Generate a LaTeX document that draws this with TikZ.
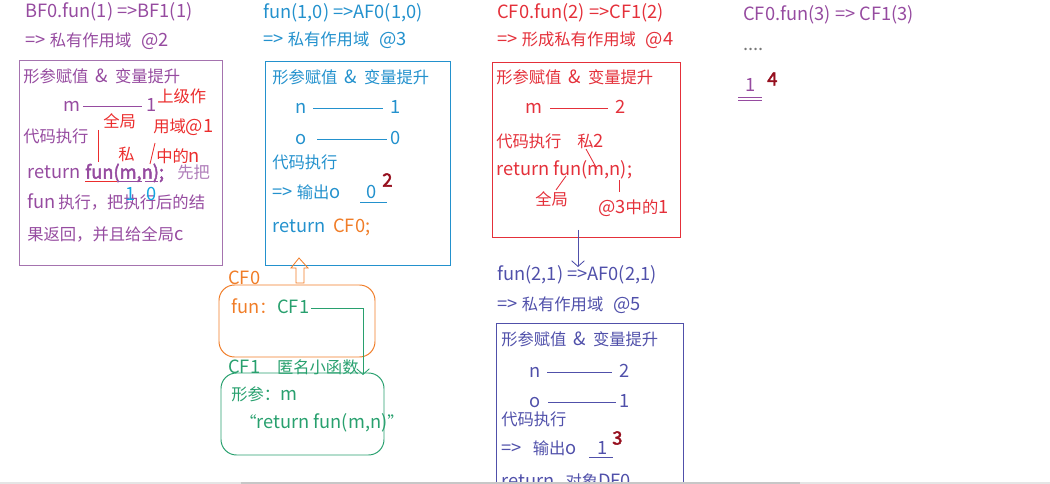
\documentclass[tikz,border=0pt]{standalone}
\usepackage{fontspec}
\newfontfamily\cjk[AutoFakeBold=2.5]{Noto Sans CJK SC}
\newcommand\zh[1]{{\fontsize{11.6}{14}\selectfont#1}}
\newcommand\hoist{\zh{形参赋值}\hspace{5pt}\&\hspace{5pt}\zh{变量提升}}
\usetikzlibrary{arrows.meta,fit}
\definecolor{bfpurple}{RGB}{150,75,160}
\definecolor{bflight}{RGB}{175,125,185}
\definecolor{bfframe}{RGB}{165,115,175}
\definecolor{notered}{RGB}{235,45,45}
\definecolor{afblue}{RGB}{35,145,205}
\definecolor{afcyan}{RGB}{20,165,225}
\definecolor{cforange}{RGB}{240,125,40}
\definecolor{cfred}{RGB}{228,48,58}
\definecolor{cfgreen}{RGB}{40,160,110}
\definecolor{afindigo}{RGB}{80,80,170}
\definecolor{stepred}{RGB}{150,15,30}
\definecolor{dotgray}{RGB}{120,120,120}

\begin{document}
\begin{tikzpicture}[x=0.025cm, y=-0.025cm,
    txt/.style={font=\cjk\fontsize{13}{15}\selectfont, inner sep=0pt,
        text height=9.5pt, text depth=1.5pt, anchor=west},
    note/.style={txt, text=notered},
    step num/.style={font=\cjk\bfseries\fontsize{13}{15}\selectfont,
        text=stepred, inner sep=0pt, anchor=west},
    frame/.style={draw, line width=0.7pt, inner sep=0pt},
    bubble/.style={frame, rounded corners=11pt},
    barb/.style={-{Straight Barb[length=4pt,width=9pt]}},
    link/.style={line width=0.6pt}
]
    \useasboundingbox (0,0) rectangle (1050,484);
    \clip (0,0) rectangle (1050,484);

    % BF0.fun(1)
    \node[txt, text=bfpurple] (bf-head) at (25,12) {BF0.fun(1) =>BF1(1)};
    \node[txt, text=bfpurple] (bf-scope) at (25,41) {=>\hspace{3pt}\zh{私有作用域}\hspace{7pt}@2};
    \node[frame, draw=bfframe, fit={(19,60) (222,265)}] (bf-box) {};
    \node[txt, text=bfpurple] (bf-hoist) at (23,77) {\hoist};
    \node[txt, text=bfpurple] (bf-m) at (63,106) {m};
    \node[txt, text=bfpurple] (bf-1) at (146,106) {1};
    \draw[link, bfpurple] (83,106) -- (142,106);
    \node[txt, text=bfpurple] (bf-run) at (23,137) {\zh{代码执行}};
    \node[txt, text=bfpurple] (bf-ret) at (27,173) {return};
    \node[txt, text=bfpurple, font=\cjk\bfseries\fontsize{13}{15}\selectfont] (bf-call) at (85,173) {fun(m,n);};
    \node[txt, text=bflight] (bf-first) at (177,173) {\zh{先把}};
    \node[txt, text=bfpurple] (bf-l2) at (27,203) {fun\hspace{2pt}\zh{执行，把执行后的结}};
    \node[txt, text=bfpurple] (bf-l3) at (27,235) {\zh{果返回，并且给全局}c};
    \draw[link, notered] (85,181) -- (117,181);
    \draw[link, bfpurple] (119,181) -- (142,181);
    \draw[link, bfpurple] (145,181) -- (158,181);
    \node[txt, text=afcyan] (bf-v1) at (125,195) {1};
    \node[txt, text=afcyan] (bf-v0) at (146,195) {0};
    % 红色批注
    \node[note] (bf-up1) at (157,97) {\zh{上级作}};
    \node[note] (bf-up2) at (153,127) {\zh{用域}@1};
    \node[note] (bf-up3) at (156,157) {\zh{中的}n};
    \node[note] (bf-global) at (103,122) {\zh{全局}};
    \node[note] (bf-priv) at (118,155) {\zh{私}};
    \draw[link, notered] (98,130) -- (98,162);
    \draw[link, notered] (150,164) -- (155,143);

    % fun(1,0)
    \node[txt, text=afblue] (af-head) at (263,13) {fun(1,0) =>AF0(1,0)};
    \node[txt, text=afblue] (af-scope) at (263,40) {=>\hspace{3pt}\zh{私有作用域}\hspace{7pt}@3};
    \node[frame, draw=afblue, fit={(265,61) (450,265)}] (af-box) {};
    \node[txt, text=afblue] (af-hoist) at (272,78) {\hoist};
    \foreach \y/\name/\val/\a/\b in {108/n/1/313/383, 139/o/0/317/387} {
        \node[txt, text=afblue] (af-\name) at (295,\y) {\name};
        \node[txt, text=afblue] (af-\name-val) at (390,\y) {\val};
        \draw[link, afblue] (\a,\y) -- (\b,\y);
    }
    \node[txt, text=afblue] (af-run) at (272,163) {\zh{代码执行}};
    \node[txt, text=afblue] (af-out) at (272,193) {=>\hspace{3pt}\zh{输出}o};
    \node[txt, text=afblue] (af-out-val) at (366,193) {0};
    \draw[link, afblue] (360,202) -- (387,202);
    \node[step num] (step-2) at (382,180) {2};
    \node[txt, text=afblue] (af-ret) at (272,227) {return};
    \node[txt, text=cforange] (af-ret-val) at (333,227) {CF0;};

    % CF0 与 CF1
    \draw[cforange, link] (299,258) -- (308,268) -- (304,268) -- (304,283)
        -- (296,283) -- (296,268) -- (291,268) -- cycle;
    \node[txt, text=cforange] (cf0-name) at (228,279) {CF0};
    \node[bubble, draw=cforange, fit={(219,285) (375,357)}] (cf0-box) {};
    \node[txt, text=cforange] (cf0-key) at (231,308) {fun\zh{：}};
    \node[txt, text=cfgreen] (cf0-val) at (277,308) {CF1};
    \node[txt, text=cfgreen] (cf1-name) at (228,368) {CF1\hspace{12pt}\zh{匿名小函数}};
    \node[bubble, draw=cfgreen, fit={(221,373) (384,455)}] (cf1-box) {};
    \node[txt, text=cfgreen] (cf1-arg) at (231,395) {\zh{形参：}m};
    \node[txt, text=cfgreen] (cf1-body) at (240,423) {\zh{“}return fun(m,n)\zh{”}};
    \coordinate (cf1-in) at (363,375);
    \draw[link, cfgreen, barb] ([xshift=1pt]cf0-val.east) -| (cf1-in);

    % CF0.fun(2)
    \node[txt, text=cfred] (cf-head) at (497,13) {CF0.fun(2) =>CF1(2)};
    \node[txt, text=cfred] (cf-scope) at (497,40) {=>\hspace{3pt}\zh{形成私有作用域}\hspace{7pt}@4};
    \node[frame, draw=cfred, fit={(492,62) (680,237)}] (cf-box) {};
    \node[txt, text=cfred] (cf-hoist) at (496,78) {\hoist};
    \node[txt, text=cfred] (cf-m) at (525,108) {m};
    \node[txt, text=cfred] (cf-m-val) at (615,108) {2};
    \draw[link, cfred] (550,108) -- (608,108);
    \node[txt, text=cfred] (cf-run) at (496,142) {\zh{代码执行}};
    \node[txt, text=cfred] (cf-priv) at (577,142) {\zh{私}2};
    \node[txt, text=cfred] (cf-ret) at (496,170) {return fun(m,n);};
    \node[txt, text=cfred] (cf-global) at (535,200) {\zh{全局}};
    \node[txt, text=cfred] (cf-from3) at (598,208) {@3\zh{中的}1};
    \draw[link, cfred] (586,149) -- (597,169);
    \draw[link, cfred] (566,176) -- (556,190);
    \draw[link, cfred] (619,180) -- (619,192);

    % fun(2,1)
    \coordinate (cf-out) at (578,230);
    \node[txt, text=afindigo] (df-head) at (497,275) {fun(2,1) =>AF0(2,1)};
    \draw[link, afindigo, barb] (cf-out) -- (cf-out |- df-head.north);
    \node[txt, text=afindigo] (df-scope) at (497,305) {=>\hspace{3pt}\zh{私有作用域}\hspace{7pt}@5};
    \node[frame, draw=afindigo, fit={(496,323) (683,500)}] (df-box) {};
    \node[txt, text=afindigo] (df-hoist) at (501,340) {\hoist};
    \foreach \y/\name/\val/\a/\b in {372/n/2/547/612, 402/o/1/548/616} {
        \node[txt, text=afindigo] (df-\name) at (529,\y) {\name};
        \node[txt, text=afindigo] (df-\name-val) at (619,\y) {\val};
        \draw[link, afindigo] (\a,\y) -- (\b,\y);
    }
    \node[txt, text=afindigo] (df-run) at (501,420) {\zh{代码执行}};
    \node[txt, text=afindigo] (df-out) at (501,449) {=>\hspace{8pt}\zh{输出}o};
    \node[txt, text=afindigo] (df-out-val) at (597,449) {1};
    \draw[link, afindigo] (589,457) -- (613,457);
    \node[step num] (step-3) at (612,438) {3};
    \node[txt, text=afindigo] (df-ret) at (501,482) {return\hspace{8pt}\zh{对象}DF0};

    % CF0.fun(3)
    \node[txt, text=bfpurple] (last-head) at (743,15) {CF0.fun(3) => CF1(3)};
    \node[txt, text=dotgray] (last-dots) at (743,45) {....};
    \node[txt, text=bfpurple] (last-val) at (745,86) {1};
    \draw[link, bfpurple] (738,97) -- (762,97);
    \draw[link, bfpurple] (738,100) -- (762,100);
    \node[step num] (step-4) at (767,79) {4};

    % 底部滚动条
    \fill[black!10] (0,481.5) rectangle (1050,484);
    \fill[black!22] (241,481.5) rectangle (800,484);
\end{tikzpicture}
\end{document}
